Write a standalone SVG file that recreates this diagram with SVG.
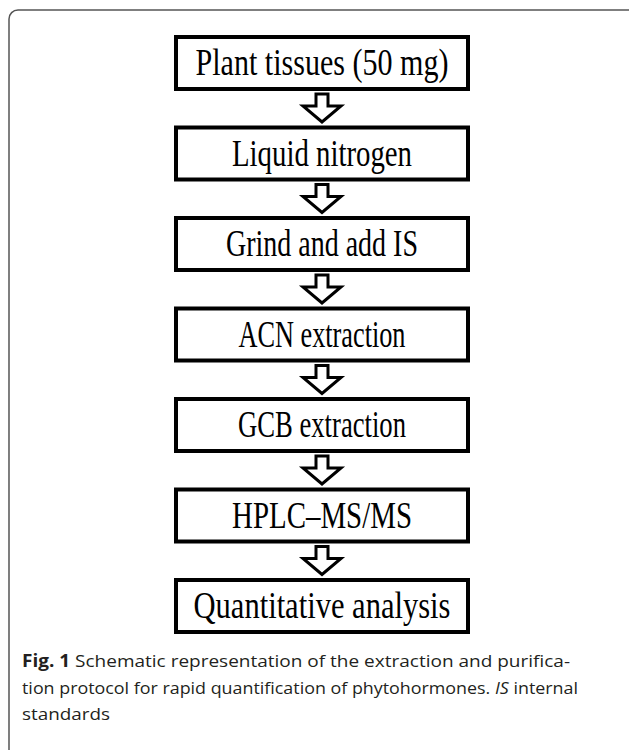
<svg xmlns="http://www.w3.org/2000/svg" width="629" height="750" viewBox="0 0 629 750">
<style>
.box{fill:#fff;stroke:#000;stroke-width:4}
.lbl{font-family:"Liberation Serif","Times New Roman",serif;font-size:37px;fill:#000;text-anchor:middle}
.arr{fill:#fff;stroke:#000;stroke-width:3;stroke-linejoin:miter}
.cap{font-family:"Open Sans","Noto Sans",sans-serif;font-size:17px;fill:#231f20}
</style>
<rect x="9" y="10" width="630" height="750" rx="9" fill="#fff" stroke="#555" stroke-width="1.5"/>
<g id="connectors">
<path class="arr" d="M316,94 H328 V106 H341 L322,122 L303,106 H316 Z"/>
<path class="arr" d="M316,184.5 H328 V196.5 H341 L322,212.5 L303,196.5 H316 Z"/>
<path class="arr" d="M316,275 H328 V287 H341 L322,303 L303,287 H316 Z"/>
<path class="arr" d="M316,365.5 H328 V377.5 H341 L322,393.5 L303,377.5 H316 Z"/>
<path class="arr" d="M316,456 H328 V468 H341 L322,484 L303,468 H316 Z"/>
<path class="arr" d="M316,546.5 H328 V558.5 H341 L322,574.5 L303,558.5 H316 Z"/>
</g>
<g id="n1"><rect class="box" x="176" y="37" width="292" height="52"/><text class="lbl" x="322" y="75" textLength="253" lengthAdjust="spacingAndGlyphs">Plant tissues (50 mg)</text></g>
<g id="n2"><rect class="box" x="176" y="127.5" width="292" height="52"/><text class="lbl" x="322" y="165.5" textLength="180" lengthAdjust="spacingAndGlyphs">Liquid nitrogen</text></g>
<g id="n3"><rect class="box" x="176" y="218" width="292" height="52"/><text class="lbl" x="322" y="256" textLength="192" lengthAdjust="spacingAndGlyphs">Grind and add IS</text></g>
<g id="n4"><rect class="box" x="176" y="308.5" width="292" height="52"/><text class="lbl" x="322" y="346.5" textLength="167" lengthAdjust="spacingAndGlyphs">ACN extraction</text></g>
<g id="n5"><rect class="box" x="176" y="399" width="292" height="52"/><text class="lbl" x="322" y="437" textLength="168" lengthAdjust="spacingAndGlyphs">GCB extraction</text></g>
<g id="n6"><rect class="box" x="176" y="489.5" width="292" height="52"/><text class="lbl" x="322" y="527.5" textLength="180" lengthAdjust="spacingAndGlyphs">HPLC–MS/MS</text></g>
<g id="n7"><rect class="box" x="176" y="580" width="292" height="52"/><text class="lbl" x="322" y="618" textLength="257" lengthAdjust="spacingAndGlyphs">Quantitative analysis</text></g>
<g id="caption">
<text class="cap" x="22" y="667" textLength="548" lengthAdjust="spacingAndGlyphs"><tspan font-weight="bold">Fig. 1</tspan>  Schematic representation of the extraction and purifica-</text>
<text class="cap" x="22" y="694" textLength="556" lengthAdjust="spacingAndGlyphs">tion protocol for rapid quantification of phytohormones. <tspan font-style="italic">IS</tspan> internal</text>
<text class="cap" x="22" y="720" textLength="88" lengthAdjust="spacingAndGlyphs">standards</text>
</g>
</svg>
